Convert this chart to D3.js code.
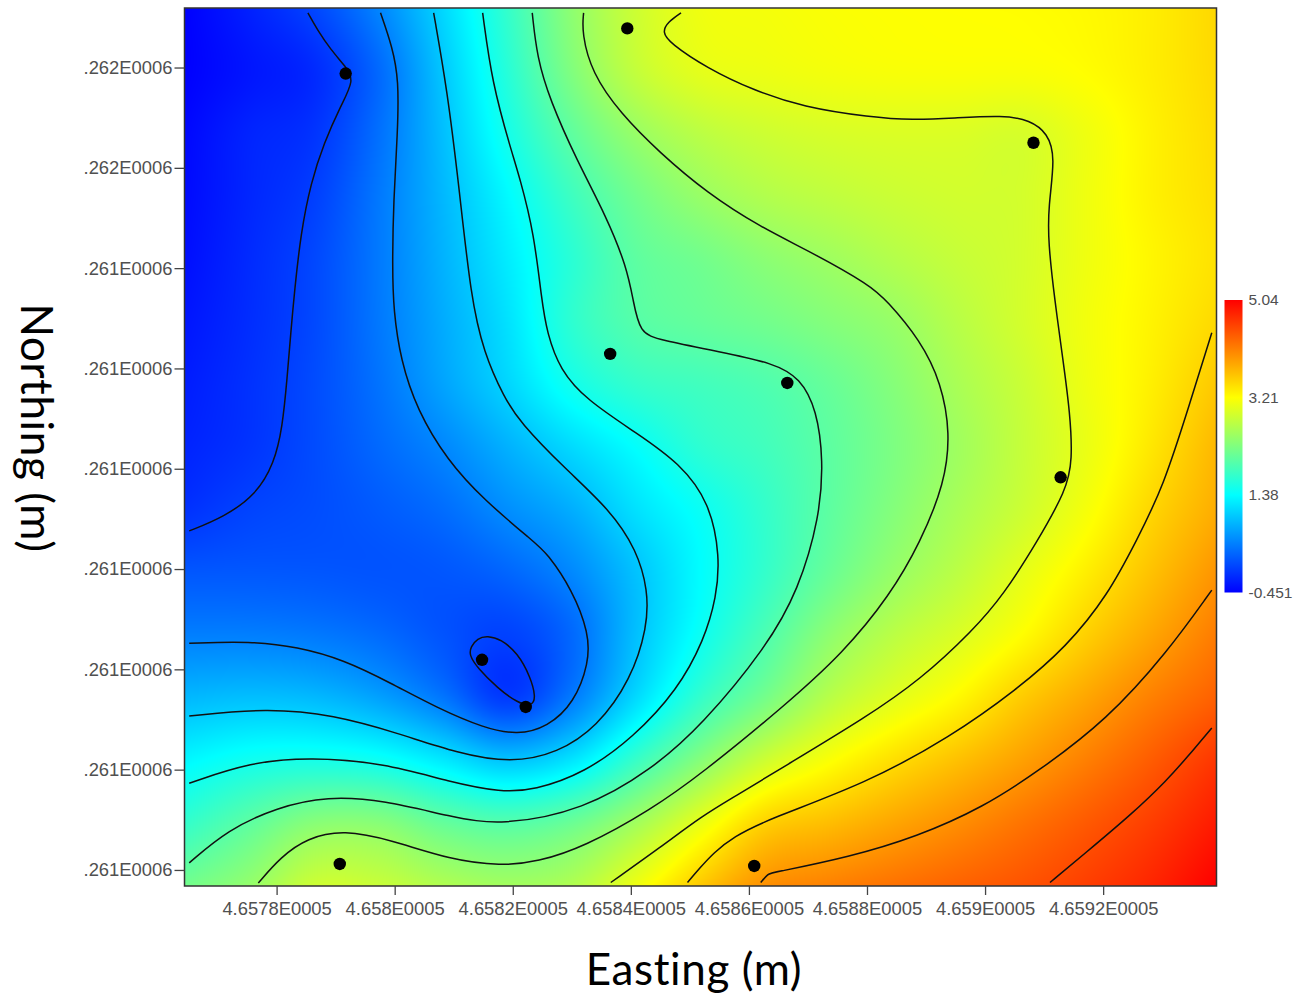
<!DOCTYPE html>
<html>
<head>
<meta charset="utf-8">
<script src="https://cdn.jsdelivr.net/npm/d3@7"></script>
<style>
  body { margin: 0; background: #fff; }
  svg { display: block; }
</style>
</head>
<body>
<script>
// eastings are metres past 465700, northings metres past 4261300
const xTickValues = [80, 100, 120, 140, 160, 180, 200, 220];
const xTickLabels = ['4.6578E0005', '4.658E0005', '4.6582E0005', '4.6584E0005', '4.6586E0005', '4.6588E0005', '4.659E0005', '4.6592E0005'];
const yTickValues = [220, 200, 180, 160, 140, 120, 100, 80, 60];
const yTickLabels = ['.262E0006', '.262E0006', '.261E0006', '.261E0006', '.261E0006', '.261E0006', '.261E0006', '.261E0006', '.261E0006'];

const colorStops = [-0.451, 1.38, 3.21, 5.04];
const colorNames = ['#0000ff', '#00ffff', '#ffff00', '#ff0000'];
const legendLabels = ['5.04', '3.21', '1.38', '-0.451'];

const wells = [
    [91.7, 218.8], [139.4, 227.8], [208.2, 205.0], [136.5, 162.9], [166.5, 157.1],
    [212.8, 138.3], [114.8, 101.9], [122.2, 92.5], [90.7, 61.2], [160.9, 60.8]
];

// field values on a regular grid over the plot, north to south
const fieldValues = [
    [-0.45, -0.22, 0.05, 0.5, 1.1, 1.75, 2.4, 2.85, 3.1, 3.14, 3.18, 3.2, 3.21, 3.22, 3.25, 3.33, 3.49],
    [-0.45, -0.3, -0.15, 0.3, 0.98, 1.65, 2.3, 2.78, 3.02, 3.08, 3.13, 3.16, 3.17, 3.17, 3.22, 3.33, 3.48],
    [-0.4, -0.2, -0.08, 0.35, 0.92, 1.52, 2.06, 2.47, 2.72, 2.85, 2.92, 2.95, 2.95, 2.92, 3.1, 3.3, 3.46],
    [-0.38, -0.18, 0.0, 0.41, 0.87, 1.35, 1.82, 2.2, 2.47, 2.65, 2.75, 2.83, 2.88, 2.9, 3.1, 3.3, 3.44],
    [-0.35, -0.15, 0.06, 0.42, 0.83, 1.25, 1.68, 2.05, 2.2, 2.38, 2.52, 2.67, 2.8, 2.9, 3.1, 3.27, 3.42],
    [-0.3, -0.13, 0.07, 0.41, 0.78, 1.17, 1.7, 1.99, 2.1, 2.2, 2.33, 2.47, 2.7, 2.9, 3.12, 3.29, 3.48],
    [-0.25, -0.1, 0.09, 0.37, 0.72, 1.08, 1.5, 1.75, 1.85, 1.95, 2.12, 2.34, 2.6, 2.83, 3.1, 3.32, 3.6],
    [-0.2, -0.08, 0.09, 0.3, 0.52, 0.82, 1.12, 1.4, 1.7, 1.85, 2.05, 2.28, 2.53, 2.8, 3.07, 3.38, 3.72],
    [-0.1, 0.03, 0.1, 0.2, 0.33, 0.57, 0.8, 1.17, 1.45, 1.75, 2.05, 2.33, 2.6, 2.85, 3.15, 3.5, 3.8],
    [0.17, 0.18, 0.17, 0.15, 0.17, 0.28, 0.53, 0.95, 1.38, 1.75, 2.13, 2.46, 2.73, 3.03, 3.33, 3.65, 3.97],
    [0.46, 0.46, 0.42, 0.32, 0.15, 0.02, 0.3, 0.93, 1.46, 1.93, 2.4, 2.72, 2.95, 3.22, 3.55, 3.85, 4.15],
    [0.87, 0.92, 0.88, 0.71, 0.4, -0.03, 0.43, 1.12, 1.75, 2.22, 2.7, 3.0, 3.25, 3.58, 3.85, 4.12, 4.35],
    [1.33, 1.49, 1.54, 1.47, 1.23, 0.96, 1.2, 1.78, 2.34, 2.85, 3.18, 3.44, 3.66, 3.89, 4.13, 4.38, 4.65],
    [1.74, 2.05, 2.35, 2.35, 2.1, 1.98, 2.14, 2.54, 3.05, 3.53, 3.68, 3.85, 4.02, 4.21, 4.4, 4.6, 4.85],
    [2.2, 2.45, 2.85, 2.82, 2.65, 2.55, 2.65, 3.1, 3.6, 4.0, 4.12, 4.23, 4.34, 4.45, 4.6, 4.78, 5.04]
];

const line0a = [[85.3,230.9],[86.9,227.5],[89.2,223.5],[91.7,220.2],[93.2,217.5],[90.9,212.5],[88.0,204.9],[85.8,197.0],[84.1,187.0],[83.0,175.0],[82.4,167.1],[81.8,158.3],[81.0,148.3],[79.6,141.1],[76.5,134.8],[71.1,130.4],[65.2,127.6]];
const line0b = [[112.9,104.5],[114.0,106.2],[115.7,106.7],[118.0,106.0],[120.8,103.3],[123.0,98.5],[123.9,94.5],[123.3,92.6],[120.8,93.3],[117.4,96.3],[114.0,100.3],[112.6,102.9]];
const line05 = [[97.6,230.9],[99.6,224.1],[100.7,217.5],[100.5,206.9],[99.8,193.6],[99.6,180.2],[99.8,171.6],[101.0,161.7],[103.8,151.7],[108.9,141.7],[115.1,133.8],[123.6,125.4],[125.8,123.2],[130.1,115.8],[132.9,107.2],[132.9,101.3],[130.4,93.3],[125.9,88.5],[120.8,86.9],[115.1,88.3],[107.2,92.3],[99.3,97.3],[91.4,101.9],[83.5,104.5],[75.6,105.6],[65.2,105.2]];
const line10 = [[106.6,230.9],[108.9,215.5],[110.9,196.2],[112.9,174.2],[115.1,163.1],[118.5,154.3],[121.2,149.3],[128.6,140.3],[136.5,131.8],[141.0,123.8],[142.9,115.8],[142.8,108.4],[140.0,97.9],[134.3,88.5],[127.6,83.3],[119.7,81.3],[110.6,83.3],[100.5,87.3],[89.7,90.9],[78.4,92.3],[65.2,90.7]];
const line15 = [[114.9,230.9],[116.5,216.9],[119.7,203.6],[121.2,198.0],[123.6,187.0],[124.9,173.6],[125.8,167.1],[128.0,159.7],[132.5,153.7],[141.0,147.1],[148.3,141.1],[153.4,133.2],[155.1,122.4],[154.5,114.4],[152.4,105.8],[147.9,95.9],[140.5,86.5],[132.1,79.3],[123.6,75.9],[118.0,75.5],[109.5,77.5],[98.2,81.3],[85.8,82.5],[75.6,81.5],[65.2,77.3]];
const line20 = [[123.3,230.9],[124.1,222.1],[126.3,213.5],[130.8,201.6],[135.9,190.2],[139.3,180.2],[140.4,173.6],[141.5,167.0],[144.9,165.7],[155.1,163.3],[164.1,161.1],[168.7,158.1],[171.5,151.7],[172.6,141.7],[172.0,130.4],[168.4,115.8],[163.0,104.5],[152.1,88.9],[143.4,79.9],[132.1,72.0],[118.0,68.8],[109.5,70.6],[98.2,73.9],[88.6,74.7],[80.1,72.5],[71.7,68.0],[65.2,61.4]];
const line25 = [[132.0,230.9],[131.7,226.9],[133.4,218.9],[138.2,210.9],[144.9,203.0],[152.9,195.0],[161.9,188.2],[170.9,183.0],[180.5,176.6],[183.3,173.6],[189.0,165.7],[192.6,157.1],[194.1,147.1],[193.2,137.2],[189.0,125.2],[183.9,114.8],[176.0,103.3],[165.8,92.5],[152.1,79.3],[143.4,72.0],[132.1,64.6],[124.2,61.6],[118.0,60.8],[109.5,62.0],[99.3,66.0],[91.4,68.0],[85.2,66.4],[80.7,62.6],[76.9,57.4]];
const line30 = [[148.5,230.9],[146.3,229.1],[145.3,227.1],[146.6,224.9],[152.9,219.9],[160.7,215.5],[169.2,212.1],[180.5,210.1],[187.8,209.5],[194.6,209.9],[203.1,210.5],[207.6,209.5],[210.6,206.9],[211.9,202.2],[210.7,192.2],[210.7,185.0],[211.8,173.6],[213.2,161.7],[214.4,151.1],[214.8,141.7],[213.8,135.8],[208.7,125.2],[203.2,115.0],[198.0,107.8],[189.0,97.9],[179.9,90.5],[165.8,80.5],[157.4,74.5],[152.1,70.8],[145.1,64.6],[136.6,57.5]];
const line35 = [[238.4,167.1],[234.7,153.1],[230.2,136.4],[225.7,125.8],[220.8,114.8],[213.8,104.5],[205.3,95.9],[194.1,86.5],[179.9,77.3],[163.0,70.0],[157.4,66.6],[154.0,63.4],[151.7,60.4],[149.6,57.5]];
const line40 = [[238.4,115.8],[230.8,103.3],[220.6,89.9],[209.3,79.9],[199.7,72.5],[188.4,66.6],[177.1,62.6],[163.9,59.4],[163.3,59.3],[162.0,57.5]];
const line45 = [[238.4,88.3],[234.1,82.3],[230.8,77.9],[225.1,71.4],[216.6,63.0],[211.0,57.5]];
const openLines = [line0a, line05, line10, line15, line20, line25, line30, line35, line40, line45];
const closedLines = [line0b];

const width = 1297, height = 996;
const plot = { left: 184.5, right: 1216.5, top: 8, bottom: 886 };

const x = d3.scaleLinear().domain([64.4, 239.2]).range([plot.left, plot.right]);
const y = d3.scaleLinear().domain([231.87, 56.8]).range([plot.top, plot.bottom]);
const color = d3.scaleLinear().domain(colorStops).range(colorNames).clamp(true);

const svg = d3.select('body').append('svg')
    .attr('width', width)
    .attr('height', height)
    .style('font-family', '"Liberation Sans", Arial, sans-serif');

// cubic through the grid values, so each node keeps the value read for it
function throughValues(vs) {
    const n = vs.length - 1;
    return t => {
        const s = t * n, i = Math.min(Math.floor(s), n - 1), u = s - i;
        const b = vs[i], c = vs[i + 1];
        const a = i > 0 ? vs[i - 1] : 2 * b - c;
        const d = i < n - 1 ? vs[i + 2] : 2 * c - b;
        return b + 0.5 * u * (c - a + u * (2 * a - 5 * b + 4 * c - d + u * (3 * (b - c) + d - a)));
    };
}

const W = plot.right - plot.left, H = plot.bottom - plot.top;
const rowCurves = fieldValues.map(throughValues);
const canvas = document.createElement('canvas');
canvas.width = Math.ceil(W);
canvas.height = H;
const ctx = canvas.getContext('2d');
const img = ctx.createImageData(canvas.width, canvas.height);
for (let i = 0; i < canvas.width; i++) {
    const t = i / (canvas.width - 1);
    const colCurve = throughValues(rowCurves.map(f => f(t)));
    for (let j = 0; j < H; j++) {
        const c = d3.rgb(color(colCurve(j / (H - 1))));
        const k = (j * canvas.width + i) * 4;
        img.data[k] = c.r; img.data[k + 1] = c.g; img.data[k + 2] = c.b; img.data[k + 3] = 255;
    }
}
ctx.putImageData(img, 0, 0);

svg.append('image')
    .attr('x', plot.left)
    .attr('y', plot.top)
    .attr('width', W)
    .attr('height', H)
    .attr('preserveAspectRatio', 'none')
    .attr('href', canvas.toDataURL());

const line = d3.line().x(d => x(d[0])).y(d => y(d[1])).curve(d3.curveBasis);
const loop = d3.line().x(d => x(d[0])).y(d => y(d[1])).curve(d3.curveBasisClosed);

const contours = svg.append('g')
    .attr('fill', 'none')
    .attr('stroke', '#111')
    .attr('stroke-width', 1.5);
contours.selectAll('path.open').data(openLines).enter().append('path').attr('class', 'open').attr('d', line);
contours.selectAll('path.closed').data(closedLines).enter().append('path').attr('class', 'closed').attr('d', loop);

svg.append('g').selectAll('circle')
    .data(wells)
    .enter().append('circle')
    .attr('cx', d => x(d[0]))
    .attr('cy', d => y(d[1]))
    .attr('r', 6.2)
    .attr('fill', '#000');

// frame and axes
svg.append('rect')
    .attr('x', plot.left).attr('y', plot.top)
    .attr('width', W).attr('height', H)
    .attr('fill', 'none').attr('stroke', '#333').attr('stroke-width', 1.5);

const xAxis = svg.append('g')
    .attr('transform', `translate(0,${plot.bottom})`)
    .call(d3.axisBottom(x).tickValues(xTickValues).tickFormat((d, i) => xTickLabels[i]).tickSize(9).tickSizeOuter(0).tickPadding(7));
const yAxis = svg.append('g')
    .attr('transform', `translate(${plot.left},0)`)
    .call(d3.axisLeft(y).tickValues(yTickValues).tickFormat((d, i) => yTickLabels[i]).tickSize(10).tickSizeOuter(0).tickPadding(2));
[xAxis, yAxis].forEach(a => {
    a.select('.domain').remove();
    a.selectAll('line').attr('stroke', '#444').attr('stroke-width', 1.3);
    a.selectAll('text').attr('fill', '#505050').style('font-size', '18.4px').style('font-family', '"Liberation Sans", Arial, sans-serif');
});

// colour bar
const legendY = d3.scaleLinear().domain([colorStops[0], colorStops[3]]).range([592.5, 300]);
const defs = svg.append('defs');
const grad = defs.append('linearGradient').attr('id', 'bar').attr('x1', 0).attr('x2', 0).attr('y1', 1).attr('y2', 0);
grad.selectAll('stop').data(colorStops).enter().append('stop')
    .attr('offset', d => (d - colorStops[0]) / (colorStops[3] - colorStops[0]))
    .attr('stop-color', d => color(d));
svg.append('rect')
    .attr('x', 1224.5).attr('y', legendY(colorStops[3]))
    .attr('width', 18).attr('height', legendY(colorStops[0]) - legendY(colorStops[3]))
    .attr('fill', 'url(#bar)');
svg.append('g').selectAll('text')
    .data(legendLabels)
    .enter().append('text')
    .attr('x', 1248.5)
    .attr('y', d => legendY(+d))
    .attr('dy', '0.35em')
    .attr('fill', '#505050')
    .style('font-size', '15.5px')
    .text(d => d);

// axis titles
svg.append('text')
    .attr('x', 694).attr('y', 985)
    .attr('text-anchor', 'middle')
    .style('font-family', 'Lato, "Noto Sans", sans-serif')
    .style('font-size', '44px')
    .style('letter-spacing', '0.6px')
    .text('Easting (m)');
svg.append('text')
    .attr('transform', 'translate(21,428) rotate(90)')
    .attr('text-anchor', 'middle')
    .style('font-family', 'Lato, "Noto Sans", sans-serif')
    .style('font-size', '44px')
    .style('letter-spacing', '0.6px')
    .text('Northing (m)');
</script>
</body>
</html>
